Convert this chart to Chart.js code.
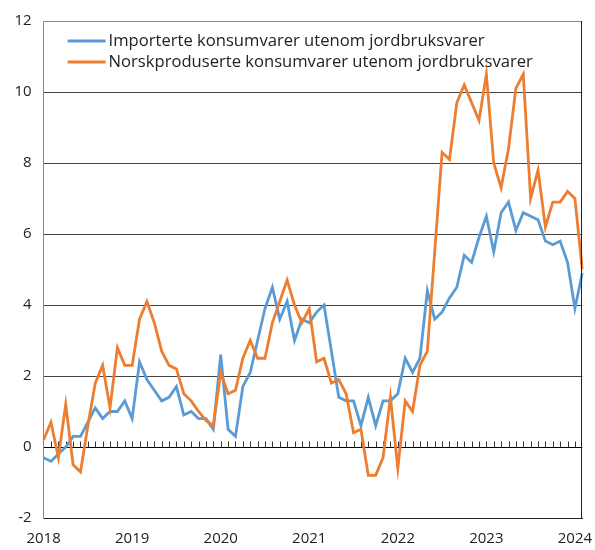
<!DOCTYPE html>
<html>
<head>
<meta charset="utf-8">
<script src="https://cdn.jsdelivr.net/npm/chart.js@4.4.1/dist/chart.umd.min.js"></script>
<style>
  html, body { margin: 0; padding: 0; background: #fff; }
</style>
</head>
<body>
<canvas id="chart" width="595" height="550"></canvas>
<script>
// monthly, Jan 2018 - Feb 2024
const firstYear = 2018;
const monthCount = 74;
const yearLabels = ['2018', '2019', '2020', '2021', '2022', '2023', '2024'];
const months = [];
for (let i = 0; i < monthCount; i++) {
    months.push((firstYear + Math.floor(i / 12)) + '-' + String(i % 12 + 1).padStart(2, '0'));
}

const importerte = [
    -0.3, -0.4, -0.2, 0.0, 0.3, 0.3, 0.7, 1.1, 0.8, 1.0, 1.0, 1.3,
    0.8, 2.4, 1.9, 1.6, 1.3, 1.4, 1.7, 0.9, 1.0, 0.8, 0.8, 0.5,
    2.6, 0.5, 0.3, 1.7, 2.1, 3.0, 3.9, 4.5, 3.6, 4.1, 3.0, 3.6,
    3.5, 3.8, 4.0, 2.7, 1.4, 1.3, 1.3, 0.6, 1.4, 0.6, 1.3, 1.3,
    1.5, 2.5, 2.1, 2.5, 4.4, 3.6, 3.8, 4.2, 4.5, 5.4, 5.2, 5.9,
    6.5, 5.5, 6.6, 6.9, 6.1, 6.6, 6.5, 6.4, 5.8, 5.7, 5.8, 5.2,
    3.9, 4.9
];
const norskproduserte = [
    0.2, 0.7, -0.3, 1.2, -0.5, -0.7, 0.6, 1.8, 2.3, 1.1, 2.8, 2.3,
    2.3, 3.6, 4.1, 3.5, 2.7, 2.3, 2.2, 1.5, 1.3, 1.0, 0.75, 0.6,
    2.1, 1.5, 1.6, 2.5, 3.0, 2.5, 2.5, 3.5, 4.1, 4.7, 4.0, 3.5,
    3.9, 2.4, 2.5, 1.8, 1.9, 1.5, 0.4, 0.5, -0.8, -0.8, -0.3, 1.4,
    -0.6, 1.3, 1.0, 2.3, 2.7, 5.5, 8.3, 8.1, 9.7, 10.2, 9.7, 9.2,
    10.5, 8.0, 7.3, 8.4, 10.1, 10.5, 7.0, 7.8, 6.2, 6.9, 6.9, 7.2,
    7.0, 5.0
];

const seriesNames = [
    'Importerte konsumvarer utenom jordbruksvarer',
    'Norskproduserte konsumvarer utenom jordbruksvarer'
];
const blue = '#5b9bd5';
const orange = '#ed7d31';
const font = '"Open Sans", "Noto Sans", sans-serif';

// frame, month ticks on the zero line and the legend inside the plot
const extras = {
    id: 'extras',
    beforeDatasetsDraw(chart) {
        const ctx = chart.ctx;
        const xs = chart.scales.x;
        const y0 = Math.round(chart.scales.y.getPixelForValue(0)) + 0.5;
        ctx.save();
        ctx.strokeStyle = '#333';
        ctx.lineWidth = 1;
        ctx.beginPath();
        for (let i = 1; i < months.length - 1; i++) {
            const px = Math.round(xs.getPixelForValue(i)) + 0.5;
            ctx.moveTo(px, y0);
            ctx.lineTo(px, y0 - 6);
        }
        ctx.stroke();
        ctx.restore();
    },
    afterDraw(chart) {
        const ctx = chart.ctx;
        const a = chart.chartArea;
        ctx.save();
        ctx.strokeStyle = '#222';
        ctx.lineWidth = 1;
        ctx.beginPath();
        ctx.moveTo(Math.round(a.right) - 0.5, a.top);
        ctx.lineTo(Math.round(a.right) - 0.5, a.bottom);
        ctx.stroke();

        ctx.font = '16.6px ' + font;
        ctx.textBaseline = 'middle';
        chart.data.datasets.forEach((ds, i) => {
            const y = a.top + 20 + i * 21;
            ctx.strokeStyle = ds.borderColor;
            ctx.lineWidth = 3;
            ctx.beginPath();
            ctx.moveTo(a.left + 24, y);
            ctx.lineTo(a.left + 62, y);
            ctx.stroke();
            ctx.fillStyle = '#222';
            ctx.fillText(ds.label, a.left + 65, y);
        });
        ctx.restore();
    }
};

new Chart(document.getElementById('chart'), {
    type: 'line',
    data: {
        labels: months,
        datasets: [
            {
                label: seriesNames[0],
                data: importerte,
                borderColor: blue,
                backgroundColor: blue,
                borderWidth: 2.8,
                pointRadius: 0,
                tension: 0,
                order: 1
            },
            {
                label: seriesNames[1],
                data: norskproduserte,
                borderColor: orange,
                backgroundColor: orange,
                borderWidth: 2.8,
                pointRadius: 0,
                tension: 0,
                order: 0
            }
        ]
    },
    options: {
        responsive: false,
        animation: false,
        layout: { padding: { top: 18, right: 12.7, left: 0, bottom: 0 } },
        plugins: {
            legend: { display: false },
            tooltip: { enabled: false }
        },
        scales: {
            x: {
                type: 'category',
                offset: false,
                grid: { drawOnChartArea: false, drawTicks: false },
                border: { color: '#222', width: 1 },
                ticks: {
                    autoSkip: false,
                    maxRotation: 0,
                    padding: 12,
                    color: '#222',
                    font: { family: font, size: 15 },
                    callback: (v, i) => (i % 12 === 0 ? yearLabels[i / 12] : '')
                },
                afterFit: (s) => { s.height = 32; }
            },
            y: {
                min: -2,
                max: 12,
                ticks: {
                    stepSize: 2,
                    padding: 12,
                    color: '#222',
                    font: { family: font, size: 15 }
                },
                grid: {
                    drawTicks: false,
                    lineWidth: 1,
                    color: (c) => {
                        if (c.tick.value === 0) return '#000';
                        if (c.tick.value === 12) return '#888';
                        return '#444';
                    }
                },
                border: { color: '#888', width: 1 },
                afterFit: (s) => { s.width = 43.6; }
            }
        }
    },
    plugins: [extras]
});
</script>
</body>
</html>
